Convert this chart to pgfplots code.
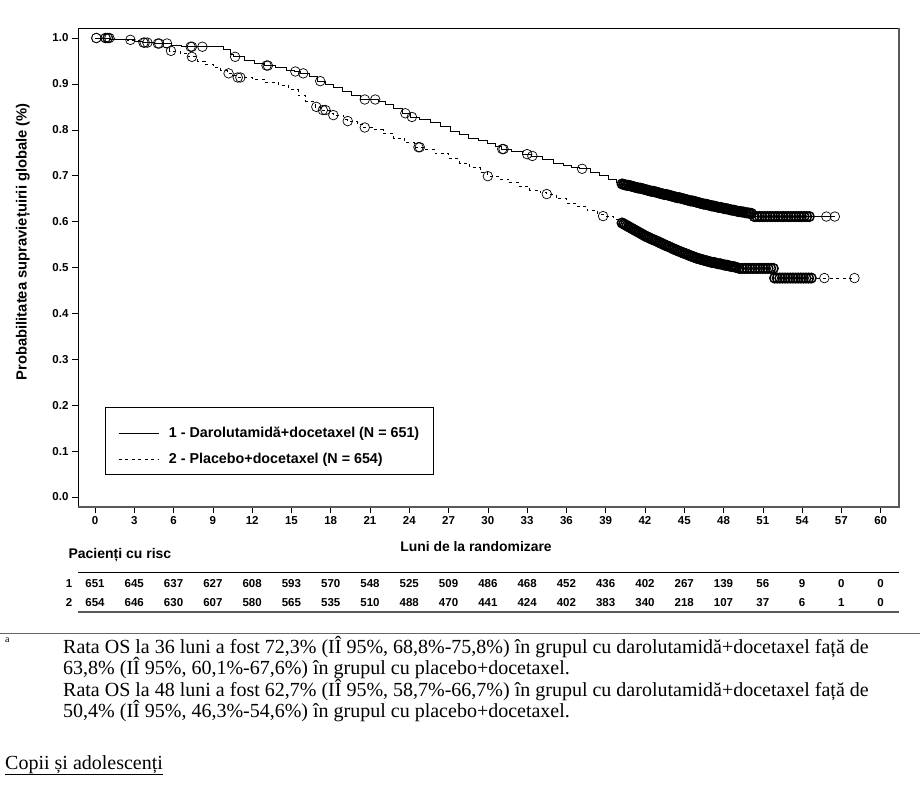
\documentclass[border=0pt]{standalone}
\usepackage{fontspec}
\setmainfont{Liberation Sans}
\newfontfamily\seriffont{Liberation Serif}
\usepackage{pgfplots}
\pgfplotsset{compat=1.18}

\newcommand\tickfont{\bfseries\fontsize{11.5}{13}\selectfont}
\newcommand\riskfont{\bfseries\fontsize{11.5}{13}\selectfont}
\newcommand\notefont{\seriffont\fontsize{20}{21.5}\selectfont}

\pgfplotsset{
  censor/.style={forget plot, only marks, mark=o, mark size=4.8pt,
    mark options={black, line width=0.7pt, solid}},
  censor dense/.style={censor, mark options={black, line width=1.5pt, solid}},
}

\begin{document}
\begin{tikzpicture}[x=1pt,y=1pt]
\useasboundingbox (0,0) rectangle (920,-786);
\begin{axis}[
  at={(78pt,-507pt)}, anchor=south west,
  scale only axis, width=821pt, height=479pt,
  xmin=-1.3, xmax=61.4, ymin=-0.0218, ymax=1.0218,
  clip=false,
  axis line style={black, line width=0.6pt},
  tick align=outside, major tick length=6pt,
  xtick pos=left, ytick pos=left,
  tick style={black, line width=0.6pt},
  xtick={0,3,6,9,12,15,18,21,24,27,30,33,36,39,42,45,48,51,54,57,60},
  ytick={0,0.1,0.2,0.3,0.4,0.5,0.6,0.7,0.8,0.9,1},
  ticklabel style={font=\tickfont},
  yticklabel style={/pgf/number format/.cd, fixed, fixed zerofill, precision=1, assume math mode=true},
  xticklabel style={/pgf/number format/assume math mode=true},
  ylabel={Probabilitatea supraviețuirii globale (\%)},
  ylabel style={at={(rel axis cs:-0.067,0.554)}, anchor=center, font=\bfseries\fontsize{14.75}{17}\selectfont},
  xlabel={Luni de la randomizare},
  xlabel style={at={(rel axis cs:0.4848,-0.0919)}, anchor=base, font=\bfseries\fontsize{13.9}{16}\selectfont},
  legend style={at={(axis cs:1.756,0.110)}, anchor=west, draw=none, fill=none,
    inner sep=0pt, row sep=8pt,
    nodes={inner sep=2pt, text height=10.5pt, text depth=3pt},
    font=\bfseries\fontsize{14.3}{16}\selectfont,
    /tikz/every odd column/.append style={column sep=8pt}},
  legend cell align=left,
  legend image code/.code={\draw[#1] (0pt,0pt) -- (40pt,0pt);},
]

% group 1: darolutamide + docetaxel (Kaplan-Meier estimate)
\addplot[const plot, black, line width=0.7pt, mark=none] coordinates {
(0,1.000) (1.2,0.998) (2.0,0.996) (3.0,0.993) (3.6,0.990) (4.5,0.988) (5.8,0.985)
(6.6,0.982) (7.2,0.981) (9.8,0.975) (10.3,0.965) (10.6,0.959) (11.4,0.952) (12.2,0.945)
(12.9,0.940) (13.8,0.935) (14.6,0.930) (15.2,0.927) (15.7,0.923) (16.4,0.916) (17.0,0.906)
(17.6,0.900) (18.2,0.892) (18.9,0.883) (19.6,0.876) (20.3,0.866) (21.6,0.862) (22.2,0.855)
(22.8,0.847) (23.5,0.836) (24.1,0.828) (24.8,0.823) (25.6,0.816) (26.4,0.808) (27.1,0.796)
(27.8,0.790) (28.5,0.782) (29.3,0.776) (30.0,0.770) (30.6,0.763) (31.0,0.758) (31.8,0.752)
(32.6,0.747) (33.3,0.743) (34.2,0.736) (35.0,0.728) (35.8,0.722) (36.4,0.718) (37.0,0.715)
(37.8,0.708) (38.5,0.700) (39.2,0.692) (39.8,0.686) (40.2,0.682) (40.5,0.680) (41,0.677)
(41.5,0.673) (42,0.670) (42.5,0.666) (43,0.663) (43.5,0.659) (44,0.656) (44.5,0.652)
(45,0.649) (45.5,0.645) (46,0.642) (46.5,0.638) (47,0.635) (47.5,0.632) (48,0.629)
(48.5,0.626) (49,0.623) (49.5,0.621) (50,0.618) (50.3,0.611) (56.5,0.611)
};
\addlegendentry{1 - Darolutamidă+docetaxel (N = 651)}

% group 2: placebo + docetaxel (Kaplan-Meier estimate)
\addplot[const plot, black, line width=0.7pt, dash pattern=on 3pt off 3.5pt, mark=none] coordinates {
(0,1.000) (1.5,0.998) (2.5,0.995) (3.4,0.990) (4.4,0.988) (5.3,0.980) (5.7,0.972)
(6.5,0.967) (7.1,0.959) (7.8,0.950) (8.4,0.943) (9.0,0.936) (9.6,0.929) (10.1,0.923)
(10.6,0.918) (10.8,0.914) (12.0,0.910) (13.0,0.904) (14.0,0.897) (14.8,0.888) (15.5,0.874)
(16.1,0.862) (16.8,0.850) (17.3,0.843) (18.0,0.836) (18.2,0.832) (19.0,0.822) (19.3,0.819)
(20.0,0.812) (20.5,0.805) (21.2,0.800) (22.0,0.792) (22.8,0.782) (23.6,0.772) (24.4,0.762)
(25.2,0.757) (26.0,0.748) (27.0,0.737) (27.8,0.728) (28.6,0.718) (29.4,0.707) (30.0,0.699)
(30.8,0.693) (31.6,0.685) (32.4,0.677) (33.2,0.669) (34.0,0.663) (34.5,0.660) (35.2,0.650)
(36.0,0.640) (36.8,0.633) (37.6,0.624) (38.4,0.616) (38.8,0.612) (39.6,0.605) (40.2,0.598)
(40.5,0.593) (41,0.585) (41.5,0.577) (42,0.569) (42.5,0.562) (43,0.556) (43.5,0.549)
(44,0.543) (44.5,0.537) (45,0.531) (45.5,0.525) (46,0.520) (46.5,0.516) (47,0.512)
(47.5,0.509) (48,0.506) (48.5,0.503) (49,0.500) (49.1,0.498) (51.8,0.477) (58.0,0.477)
};
\addlegendentry{2 - Placebo+docetaxel (N = 654)}

% censored observations, group 1
\addplot[censor] coordinates {
(0.1,1) (0.8,1) (0.95,1) (1.1,1) (2.7,0.996) (3.7,0.990) (4.0,0.990) (4.8,0.988) (5.5,0.988)
(7.3,0.981) (7.4,0.981) (8.2,0.981) (10.7,0.959) (13.1,0.940) (13.2,0.940) (15.3,0.927)
(15.9,0.923) (17.2,0.906) (20.6,0.866) (21.4,0.866) (23.7,0.836) (24.2,0.828) (31.1,0.758)
(31.2,0.758) (33.0,0.747) (33.4,0.743) (37.2,0.715) (55.85,.611) (56.5,.611)
};
\addplot[censor dense] coordinates {
(40.250,.682) (40.375,.681) (40.500,.680) (40.625,.679) (40.750,.679) (40.875,.678)
(41.000,.677) (41.125,.676) (41.250,.675) (41.375,.674) (41.500,.673) (41.625,.673)
(41.750,.672) (41.875,.671) (42.000,.670) (42.125,.669) (42.250,.668) (42.375,.667)
(42.500,.666) (42.625,.666) (42.750,.665) (42.875,.664) (43.000,.663) (43.125,.662)
(43.250,.661) (43.375,.660) (43.500,.659) (43.625,.659) (43.750,.658) (43.875,.657)
(44.000,.656) (44.125,.655) (44.250,.654) (44.375,.653) (44.500,.652) (44.625,.652)
(44.750,.651) (44.875,.650) (45.000,.649) (45.125,.648) (45.250,.647) (45.375,.646)
(45.500,.645) (45.625,.645) (45.750,.644) (45.875,.643) (46.000,.642) (46.125,.641)
(46.250,.640) (46.375,.639) (46.500,.638) (46.625,.638) (46.750,.637) (46.875,.636)
(47.000,.635) (47.125,.634) (47.250,.634) (47.375,.633) (47.500,.632) (47.625,.631)
(47.750,.631) (47.875,.630) (48.000,.629) (48.125,.628) (48.250,.628) (48.375,.627)
(48.500,.626) (48.625,.625) (48.750,.625) (48.875,.624) (49.000,.623) (49.125,.622)
(49.250,.622) (49.375,.621) (49.500,.621) (49.625,.620) (49.750,.619) (49.875,.619)
(50.000,.618) (50.125,.618)
(50.35,.611) (50.55,.611) (50.75,.611) (50.95,.611) (51.15,.611) (51.35,.611) (51.55,.611)
(51.75,.611) (51.95,.611) (52.15,.611) (52.35,.611) (52.55,.611) (52.75,.611) (52.95,.611)
(53.15,.611) (53.35,.611) (53.55,.611) (53.75,.611) (53.95,.611) (54.15,.611) (54.35,.611)
(54.55,.611)
};

% censored observations, group 2
\addplot[censor] coordinates {
(0.1,1) (0.8,1) (1.0,1) (3.8,0.990) (4.9,0.988) (5.8,0.972) (7.4,0.959) (10.2,0.923)
(10.9,0.914) (11.1,0.914) (16.9,0.850) (17.4,0.843) (17.6,0.843) (18.2,0.832) (19.3,0.819)
(20.6,0.805) (24.7,0.762) (24.8,0.762) (30.0,0.699) (34.5,0.660) (38.8,0.612)
(55.7,.477) (58.0,.477)
};
\addplot[censor dense] coordinates {
(40.250,.597) (40.375,.595) (40.500,.593) (40.625,.591) (40.750,.589) (40.875,.587)
(41.000,.585) (41.125,.583) (41.250,.581) (41.375,.579) (41.500,.577) (41.625,.575)
(41.750,.573) (41.875,.571) (42.000,.569) (42.125,.567) (42.250,.566) (42.375,.564)
(42.500,.562) (42.625,.561) (42.750,.559) (42.875,.558) (43.000,.556) (43.125,.554)
(43.250,.553) (43.375,.551) (43.500,.549) (43.625,.548) (43.750,.546) (43.875,.545)
(44.000,.543) (44.125,.541) (44.250,.540) (44.375,.538) (44.500,.537) (44.625,.535)
(44.750,.534) (44.875,.532) (45.000,.531) (45.125,.530) (45.250,.528) (45.375,.527)
(45.500,.525) (45.625,.524) (45.750,.523) (45.875,.521) (46.000,.520) (46.125,.519)
(46.250,.518) (46.375,.517) (46.500,.516) (46.625,.515) (46.750,.514) (46.875,.513)
(47.000,.512) (47.125,.511) (47.250,.511) (47.375,.510) (47.500,.509) (47.625,.508)
(47.750,.508) (47.875,.507) (48.000,.506) (48.125,.505) (48.250,.505) (48.375,.504)
(48.500,.503) (48.625,.502) (48.750,.502) (48.875,.501) (49.000,.500)
(49.2,.498) (49.4,.498) (49.6,.498) (49.8,.498) (50.0,.498) (50.2,.498) (50.4,.498)
(50.6,.498) (50.8,.498) (51.0,.498) (51.2,.498) (51.4,.498) (51.6,.498) (51.8,.498)
(51.9,.477) (52.1,.477) (52.3,.477) (52.5,.477) (52.7,.477) (52.9,.477) (53.1,.477)
(53.3,.477) (53.5,.477) (53.7,.477) (53.9,.477) (54.1,.477) (54.3,.477) (54.5,.477)
(54.7,.477)
};

% heavier right and bottom frame edges
\draw[black!65, line width=1.6pt] (rel axis cs:0,0) -- (rel axis cs:1,0) -- (rel axis cs:1,1);

% legend frame
\draw[black, line width=0.7pt] (axis cs:0.76,0.0495) rectangle (axis cs:25.8,0.1961);

% number at risk table
\node[anchor=base west, font=\bfseries\fontsize{14}{16}\selectfont] at (axis cs:-2.29,-0.1329) {Pacienți cu risc};
\draw[black, line width=0.7pt] (axis cs:-1.3,-0.1647) -- (axis cs:61.4,-0.1647);
\draw[black!65, line width=1.6pt] (axis cs:-1.3,-0.2512) -- (axis cs:61.4,-0.2512);
\node[anchor=base, inner sep=0pt, font=\riskfont] at (axis cs:-1.98,-0.1961) {1};
\node[anchor=base, inner sep=0pt, font=\riskfont] at (axis cs:-1.98,-0.2375) {2};
\foreach \t/\a/\b in {0/651/654, 3/645/646, 6/637/630, 9/627/607, 12/608/580, 15/593/565,
  18/570/535, 21/548/510, 24/525/488, 27/509/470, 30/486/441, 33/468/424, 36/452/402,
  39/436/383, 42/402/340, 45/267/218, 48/139/107, 51/56/37, 54/9/6, 57/0/1, 60/0/0} {
  \edef\temp{\noexpand\node[anchor=base, inner sep=0pt, font=\noexpand\riskfont] at (axis cs:\t,-0.1961) {\a};
    \noexpand\node[anchor=base, inner sep=0pt, font=\noexpand\riskfont] at (axis cs:\t,-0.2375) {\b};}
  \temp
}
\end{axis}

% footnote
\draw[black!60, line width=1.5pt] (0,-633.5) -- (920,-633.5);
\node[anchor=base west, inner sep=0pt, font=\seriffont\fontsize{10}{12}\selectfont] at (5,-642) {a};
\node[anchor=base west, inner sep=0pt, font=\notefont] at (63,-653) {Rata OS la 36 luni a fost 72,3\% (IÎ 95\%, 68,8\%-75,8\%) în grupul cu darolutamidă+docetaxel față de};
\node[anchor=base west, inner sep=0pt, font=\notefont] at (63,-674.5) {63,8\% (IÎ 95\%, 60,1\%-67,6\%) în grupul cu placebo+docetaxel.};
\node[anchor=base west, inner sep=0pt, font=\notefont] at (63,-696) {Rata OS la 48 luni a fost 62,7\% (IÎ 95\%, 58,7\%-66,7\%) în grupul cu darolutamidă+docetaxel față de};
\node[anchor=base west, inner sep=0pt, font=\notefont] at (63,-717.5) {50,4\% (IÎ 95\%, 46,3\%-54,6\%) în grupul cu placebo+docetaxel.};
\node[anchor=base west, inner sep=0pt, font=\notefont] at (5,-769) {\underline{Copii și adolescenți}};
\end{tikzpicture}
\end{document}
